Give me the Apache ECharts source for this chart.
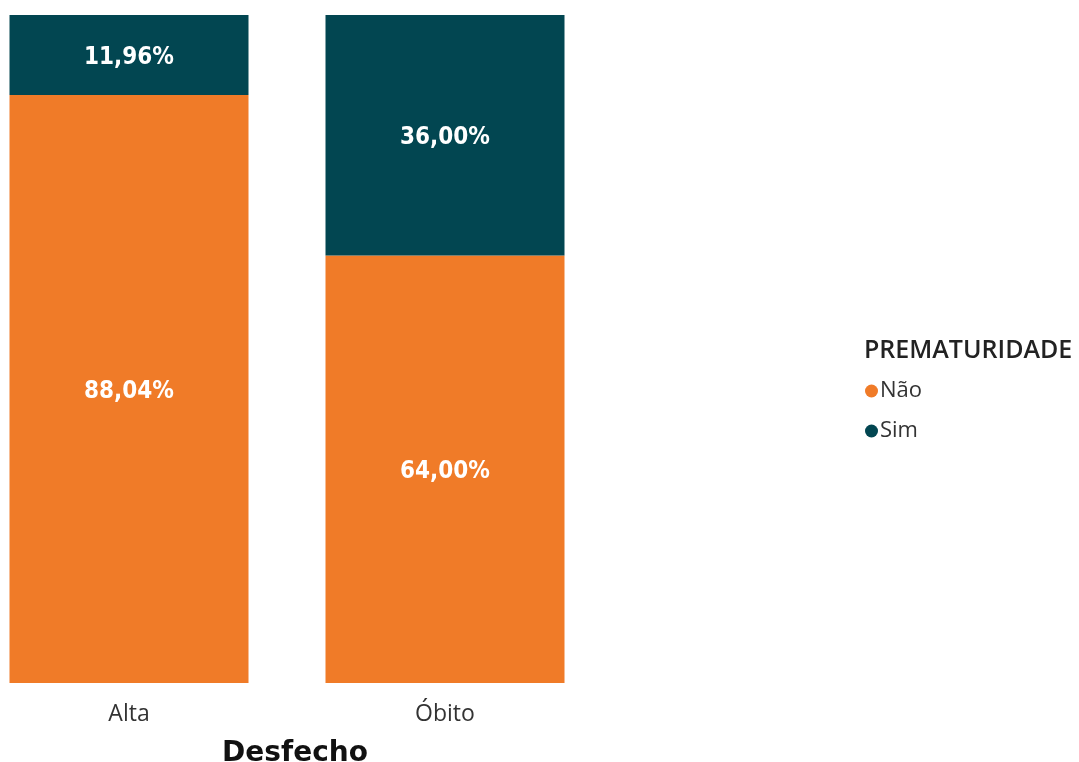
<!DOCTYPE html>
<html>
<head>
<meta charset="utf-8">
<style>
  html, body { margin: 0; padding: 0; background: #ffffff; }
  #chart { width: 1079px; height: 762px; }
</style>
<script src="https://cdn.jsdelivr.net/npm/echarts@6/dist/echarts.min.js"></script>
</head>
<body>
<div id="chart"></div>
<script>
// Desfecho categories and the share of each prematurity group (percent)
const categories = ['Alta', 'Óbito'];
const naoValues = [88.04, 64.00];
const simValues = [11.96, 36.00];
const seriesNames = ['Não', 'Sim'];

const ORANGE = '#F07B28';
const TEAL = '#024651';

const fmt = v => v.toFixed(2).replace('.', ',') + '%';

const labelStyle = {
  show: true,
  position: 'inside',
  offset: [0, 3],
  color: '#ffffff',
  fontFamily: '"DejaVu Sans Condensed", "DejaVu Sans", sans-serif',
  fontSize: 24,
  fontWeight: 'bold',
  formatter: p => fmt(p.value)
};

const chart = echarts.init(document.getElementById('chart'), null, { renderer: 'canvas' });
chart.setOption({
  animation: false,
  backgroundColor: '#ffffff',
  title: [
    {
      text: 'Desfecho',
      left: 290, top: 735,
      textAlign: 'center',
      textStyle: { fontFamily: '"DejaVu Sans", sans-serif', fontWeight: 'bold', fontSize: 28, color: '#111111' }
    },
    {
      text: 'PREMATURIDADE',
      left: 859, top: 333,
      textStyle: { fontFamily: '"Open Sans", "Noto Sans", sans-serif', fontWeight: 600, fontSize: 25, color: '#222222' }
    }
  ],
  legend: {
    orient: 'vertical',
    left: 860, top: 375,
    icon: 'circle',
    itemWidth: 13, itemHeight: 13,
    itemGap: 18,
    textStyle: { fontFamily: '"Open Sans", "Noto Sans", sans-serif', fontSize: 22, color: '#333333', padding: [0, 0, 0, -3] },
    data: seriesNames
  },
  // category points sit on the grid edges; bars are centred on them
  grid: { left: 129, width: 316, top: 15, bottom: 79, containLabel: false },
  xAxis: {
    type: 'category',
    data: categories,
    boundaryGap: false,
    axisLine: { show: false },
    axisTick: { show: false },
    axisLabel: { fontFamily: '"Open Sans", "Noto Sans", sans-serif', fontSize: 23, color: '#333333', margin: 20 }
  },
  yAxis: {
    type: 'value', min: 0, max: 100,
    show: false
  },
  series: [
    {
      name: seriesNames[0], type: 'bar', stack: 'total',
      data: naoValues, barWidth: 239, clip: false,
      itemStyle: { color: ORANGE },
      label: labelStyle
    },
    {
      name: seriesNames[1], type: 'bar', stack: 'total',
      data: simValues, barWidth: 239, clip: false,
      itemStyle: { color: TEAL },
      label: labelStyle
    }
  ]
});
</script>
</body>
</html>
